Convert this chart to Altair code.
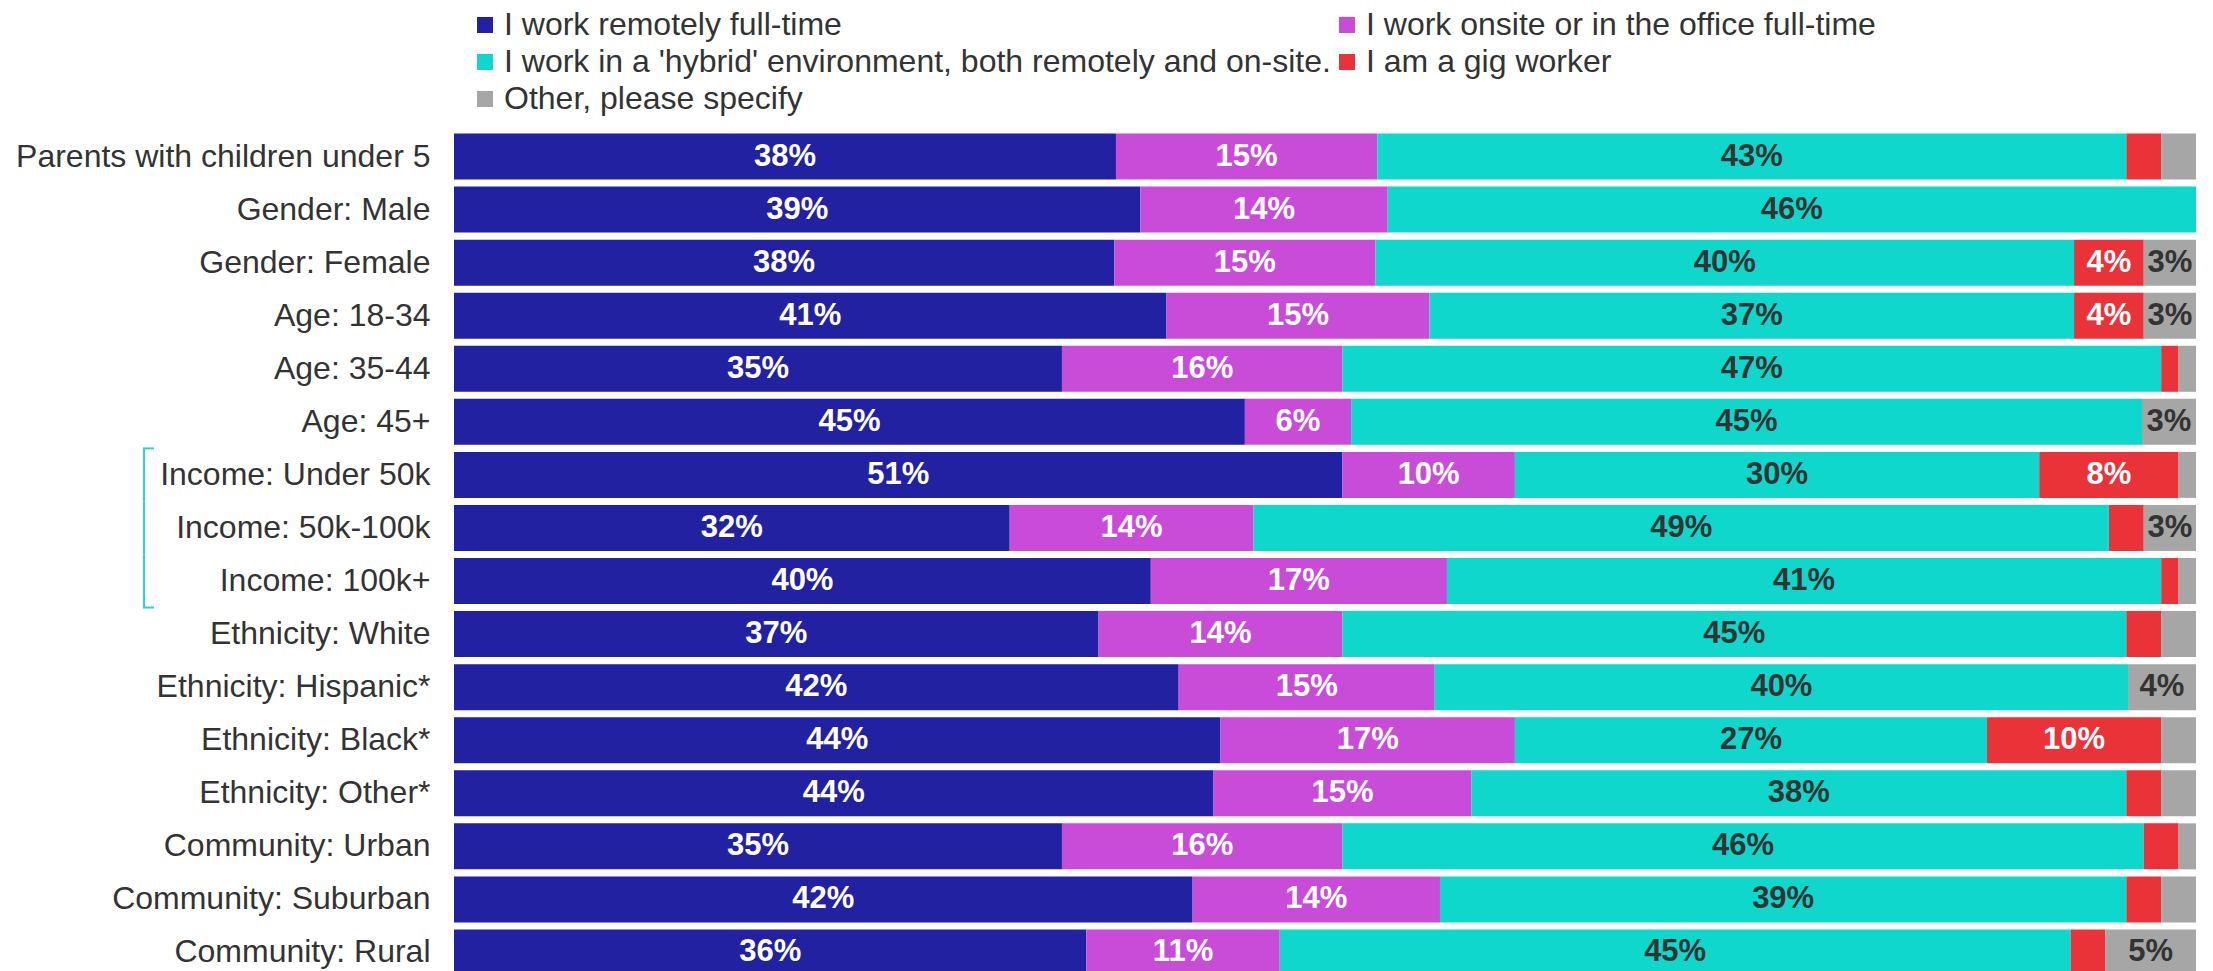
import altair as alt
import pandas as pd

groups = [
    "Parents with children under 5", "Gender: Male", "Gender: Female",
    "Age: 18-34", "Age: 35-44", "Age: 45+",
    "Income: Under 50k", "Income: 50k-100k", "Income: 100k+",
    "Ethnicity: White", "Ethnicity: Hispanic*", "Ethnicity: Black*", "Ethnicity: Other*",
    "Community: Urban", "Community: Suburban", "Community: Rural",
]
remote = [38.0, 39.4, 37.9, 40.9, 34.9, 45.4, 51.0, 31.9, 40.0, 37.0, 41.6, 44.0, 43.6, 34.9, 42.4, 36.3]
onsite = [15.0, 14.2, 15.0, 15.1, 16.1, 6.1, 9.9, 14.0, 17.0, 14.0, 14.7, 16.9, 14.8, 16.1, 14.2, 11.1]
hybrid = [43.0, 46.4, 40.1, 37.0, 47.0, 45.4, 30.1, 49.1, 41.0, 45.0, 39.8, 27.1, 37.6, 46.0, 39.4, 45.4]
gig = [2.0, 0.0, 4.0, 4.0, 1.0, 0.0, 8.0, 2.0, 1.0, 2.0, 0.0, 10.0, 2.0, 2.0, 2.0, 2.0]
other = [2.0, 0.0, 3.0, 3.0, 1.0, 3.1, 1.0, 3.0, 1.0, 2.0, 3.9, 2.0, 2.0, 1.0, 2.0, 5.2]

series = [
    "I work remotely full-time",
    "I work onsite or in the office full-time",
    "I work in a 'hybrid' environment, both remotely and on-site.",
    "I am a gig worker",
    "Other, please specify",
]
colors = ["#2121a1", "#c84cd8", "#0fd7cc", "#e93339", "#a6a6a6"]
label_colors = ["#ffffff", "#ffffff", "#333333", "#ffffff", "#333333"]
# legend fills column by column: put entries so rows read remote|onsite, hybrid|gig, other
legend_order = [0, 2, 4, 1, 3]
bracket_rows = ["Income: Under 50k", "Income: 50k-100k", "Income: 100k+"]

rows = []
for i, g in enumerate(groups):
    for k, vals in enumerate([remote, onsite, hybrid, gig, other]):
        rows.append({"group": g, "series": series[k], "order": k,
                     "value": vals[i], "label_color": label_colors[k]})
df = pd.DataFrame(rows)

FONT = "Liberation Sans"

yenc = alt.Y("group:N", sort=groups, title=None,
             scale=alt.Scale(paddingInner=0, paddingOuter=0),
             axis=alt.Axis(labelFont=FONT, labelFontSize=32, labelColor="#333333",
                           labelPadding=24, ticks=False, domain=False, labelLimit=700))
xscale = alt.Scale(domain=[0, 100])

base = alt.Chart(df).transform_stack(
    stack="value", groupby=["group"], as_=["v0", "v1"],
    sort=[alt.SortField("order", "ascending")]
).transform_calculate(mid="(datum.v0 + datum.v1) / 2",
                      lbl="format(datum.value, '.0f') + '%'")

dom = [series[j] for j in legend_order]
rng = [colors[j] for j in legend_order]

bars = base.mark_bar(height=alt.RelativeBandSize(0.867)).encode(
    y=yenc,
    x=alt.X("v0:Q", scale=xscale, axis=None),
    x2="v1:Q",
    color=alt.Color("series:N", sort=dom,
                    scale=alt.Scale(domain=dom, range=rng),
                    legend=alt.Legend(title=None, orient="none", legendX=15, legendY=-121,
                                      columns=2, symbolType="square", symbolSize=256,
                                      symbolStrokeWidth=0, labelFont=FONT, labelFontSize=32,
                                      labelColor="#333333", labelLimit=1200, labelOffset=3,
                                      rowPadding=5, columnPadding=0, padding=0)),
)

labels = base.transform_filter("datum.value >= 2.5").mark_text(
    font=FONT, fontWeight="bold", fontSize=31, baseline="middle", align="center"
).encode(
    y=alt.Y("group:N", sort=groups),
    x=alt.X("mid:Q", scale=xscale),
    text="lbl:N",
    color=alt.Color("label_color:N", scale=None),
)

bdf = pd.DataFrame({"group": bracket_rows})
bracket_v = alt.Chart(bdf).mark_rect(color="#2fd3cc").encode(
    y=alt.Y("group:N", sort=groups),
    x=alt.value(-311), x2=alt.value(-309),
)
top_df = pd.DataFrame({"group": [bracket_rows[0]]})
bot_df = pd.DataFrame({"group": [bracket_rows[-1]]})
tick_top = alt.Chart(top_df).mark_rule(color="#2fd3cc", strokeWidth=2).encode(
    y=alt.Y("group:N", sort=groups, bandPosition=0),
    x=alt.value(-311), x2=alt.value(-300),
)
tick_bot = alt.Chart(bot_df).mark_rule(color="#2fd3cc", strokeWidth=2).encode(
    y=alt.Y("group:N", sort=groups, bandPosition=1),
    x=alt.value(-311), x2=alt.value(-300),
)

chart = alt.layer(bars, labels, bracket_v, tick_top, tick_bot).properties(
    width=1742, height=849,
    autosize=alt.AutoSizeParams(type="none"),
    padding={"left": 446, "top": 122, "right": 0, "bottom": 0},
    background="white",
).configure_view(stroke=None)

chart.save("out.html", embed_options={"renderer": "svg", "actions": False})
